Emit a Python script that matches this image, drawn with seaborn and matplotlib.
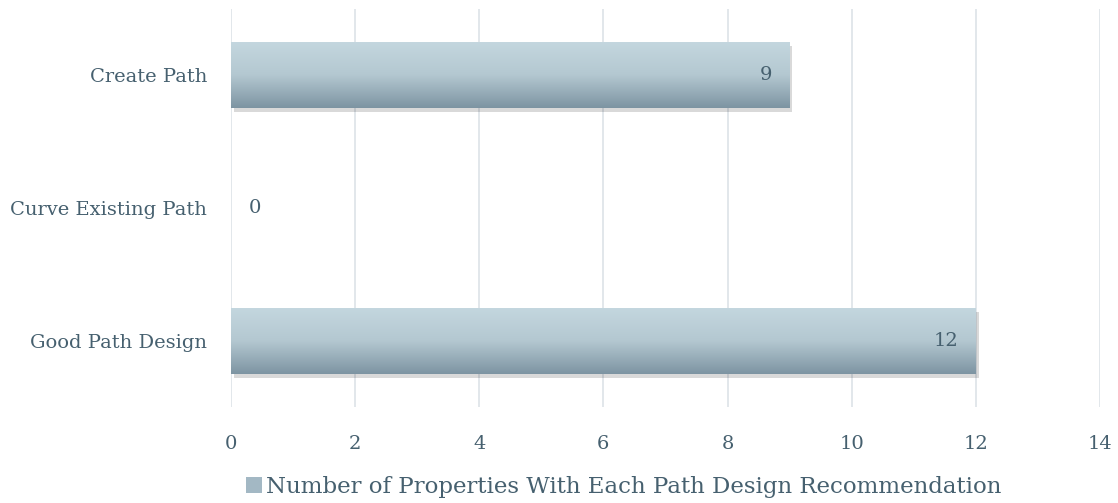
import numpy as np
import pandas as pd
import matplotlib
matplotlib.use("Agg")
import matplotlib.pyplot as plt
import matplotlib.patheffects as pe
from matplotlib.patches import Patch
import seaborn as sns

# data
categories = ["Create Path", "Curve Existing Path", "Good Path Design"]
counts = [9, 0, 12]
series_name = "Number of Properties With Each Path Design Recommendation"
xticks = [0, 2, 4, 6, 8, 10, 12, 14]

df = pd.DataFrame({"Recommendation": categories, "Count": counts})

sns.set_style("white")
plt.rcParams["font.family"] = ["DejaVu Serif"]
text_col = "#46606f"

fig = plt.figure(figsize=(11.18, 5.03), dpi=100)
ax = fig.add_axes([0.2066, 0.19, 0.7773, 0.793])

sns.barplot(data=df, x="Count", y="Recommendation", orient="h", width=0.5,
            color="#a3b8c4", ax=ax, zorder=2, linewidth=0, edgecolor="none")

# vertical gradient (light top, darker bottom) clipped to each bar
grad = np.linspace(0, 1, 256).reshape(-1, 1)
cmap = matplotlib.colors.LinearSegmentedColormap.from_list("bar", ["#c4d7df", "#b4c8d1", "#7d94a2"])
for p in ax.patches:
    x0, y0 = p.get_x(), p.get_y()
    w, h = p.get_width(), p.get_height()
    if w <= 0:
        p.set_visible(False)
        continue
    p.set_path_effects([pe.SimplePatchShadow(offset=(2, -3), shadow_rgbFace="#000000", alpha=0.15),
                        pe.Normal()])
    im = ax.imshow(grad, cmap=cmap, aspect="auto", extent=[x0, x0 + w, y0 + h, y0],
                   zorder=3, interpolation="bilinear")
    im.set_clip_path(p)

# value labels
for i, v in enumerate(counts):
    if v > 0:
        ax.text(v - 0.28, i, str(v), ha="right", va="center", fontsize=14, color=text_col, zorder=4)
    else:
        ax.text(0.28, i, str(v), ha="left", va="center", fontsize=14, color=text_col, zorder=4)

ax.set_xlim(0, 14)
ax.set_ylim(2.5, -0.5)
ax.set_xticks(xticks)
ax.grid(axis="x", color="#dde3e8", linewidth=1.2, zorder=0)
ax.grid(axis="y", visible=False)
for s in ax.spines.values():
    s.set_visible(False)
ax.set_xlabel("")
ax.set_ylabel("")
ax.tick_params(axis="both", length=0, labelsize=14, labelcolor=text_col)
ax.tick_params(axis="x", pad=20)
ax.tick_params(axis="y", pad=17)

handle = Patch(facecolor="#a3b8c4", edgecolor="none")
fig.legend([handle], [series_name], loc="center", bbox_to_anchor=(0.558, 0.032),
           frameon=False, fontsize=16.5, labelcolor=text_col, handlelength=0.7,
           handleheight=0.7, handletextpad=0.15)

fig.savefig("out.png", dpi=100)
